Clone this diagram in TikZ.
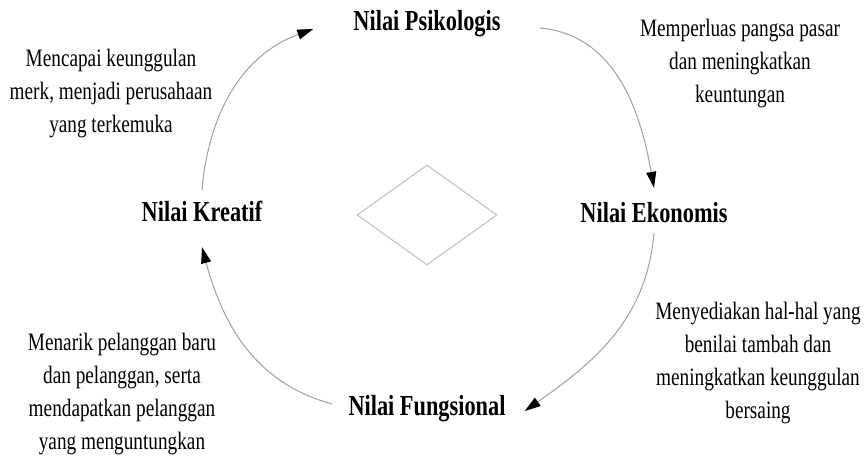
\documentclass[tikz,border=0pt]{standalone}
\usepackage{fontspec}
\setmainfont[FakeStretch=0.77]{Liberation Serif}
\usetikzlibrary{shapes.geometric, arrows.meta}
\usepackage{xcolor}
\definecolor{arcgray}{HTML}{A0A0A0}
\definecolor{diagray}{HTML}{C4C4C4}
\tikzset{
  valuebox/.style={inner sep=0pt, text height=20pt, text depth=6pt,
                   font=\fontsize{29}{34}\selectfont\bfseries},
  notebox/.style ={inner sep=0pt, align=center,
                   font=\fontsize{25}{33}\selectfont},
  core/.style    ={diamond, draw=diagray, line width=1.1pt, inner sep=0pt,
                   minimum width=140pt, minimum height=100pt},
  cycle/.style   ={-{Triangle[length=16pt, width=10pt, color=black]},
                   draw=arcgray, line width=1pt},
}
\begin{document}
\begin{tikzpicture}[x=1pt, y=1pt]
    \useasboundingbox[fill=white] (0,0) rectangle (864,463);
    \node[core] (mid) at (427,248) {};
    \node[valuebox] (psi) at (427,439) {Nilai Psikologis};
    \node[valuebox] (eko) at (654,247) {Nilai Ekonomis};
    \node[valuebox] (fun) at (427,55)  {Nilai Fungsional};
    \node[valuebox] (kre) at (202,248) {Nilai Kreatif};
    \node[notebox] (n1) at (111,369) {Mencapai keunggulan\\merk, menjadi perusahaan\\yang terkemuka};
    \node[notebox] (n2) at (740,399) {Memperluas pangsa pasar\\dan meningkatkan\\keuntungan};
    \node[notebox] (n3) at (758,100) {Menyediakan hal-hal yang\\benilai tambah dan\\meningkatkan keunggulan\\bersaing};
    \node[notebox] (n4) at (122,69)  {Menarik pelanggan baru\\dan pelanggan, serta\\mendapatkan pelanggan\\yang menguntungkan};
    \draw[cycle] ([yshift=12pt]kre.north) to[out=85, in=200] ([xshift=-40pt, yshift=-5pt]psi.west);
    \draw[cycle] ([xshift=39pt, yshift=-4pt]psi.east) to[out=-5, in=100] ([yshift=15pt]eko.north);
    \draw[cycle] ([yshift=-4pt]eko.south) to[out=-95, in=35] ([xshift=19pt, yshift=-3pt]fun.east);
    \draw[cycle] ([xshift=-16pt, yshift=4pt]fun.west) to[out=165, in=-75] ([yshift=-19pt]kre.south);
  \end{tikzpicture}
\end{document}
